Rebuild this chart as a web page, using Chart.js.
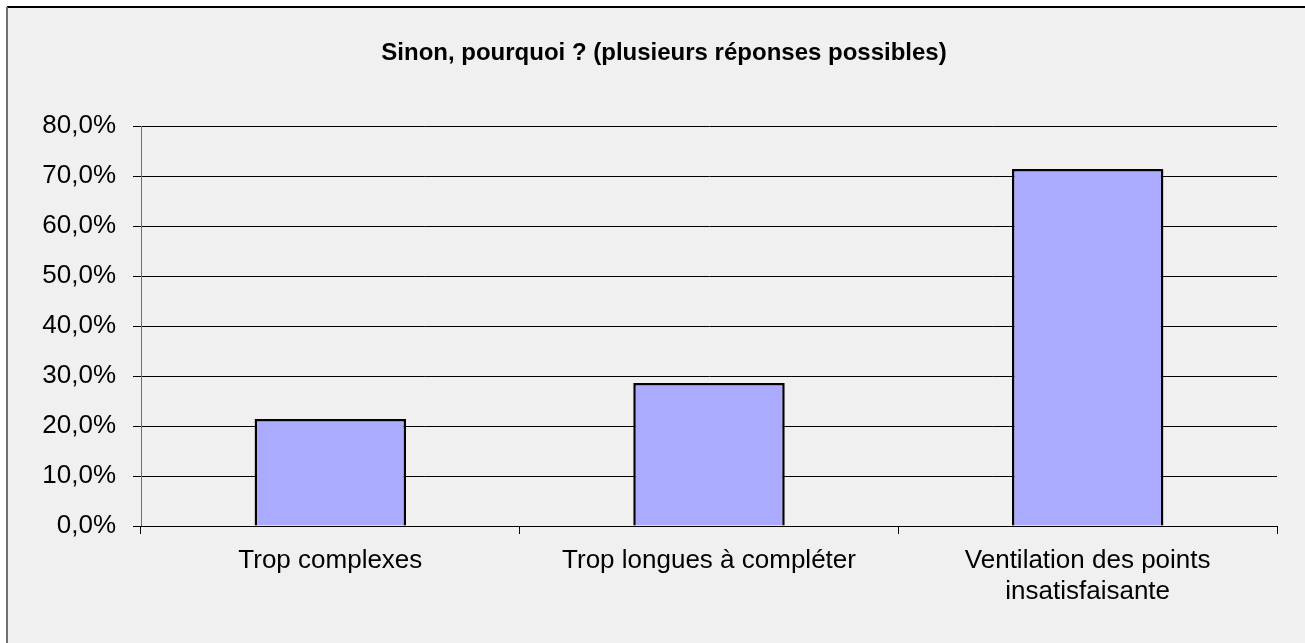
<!DOCTYPE html>
<html>
<head>
<meta charset="utf-8">
<script src="https://cdn.jsdelivr.net/npm/chart.js@4"></script>
<style>
  html, body { margin: 0; padding: 0; background: #ffffff; }
  #wrap { position: relative; width: 1305px; height: 643px; }
</style>
</head>
<body>
<div id="wrap"><canvas id="c" width="1305" height="643"></canvas></div>
<script>
const categories = ['Trop complexes', 'Trop longues à compléter', ['Ventilation des points', 'insatisfaisante']];
const values = [21.4, 28.6, 71.4];
const yTicks = [0, 10, 20, 30, 40, 50, 60, 70, 80];
const titleText = 'Sinon, pourquoi ? (plusieurs réponses possibles)';

const FONT = '"Liberation Sans", Arial, sans-serif';

// Grey panel with a dark frame, plus the title text
const panel = {
  id: 'panel',
  beforeDraw(chart) {
    const ctx = chart.ctx;
    ctx.save();
    ctx.fillStyle = '#f0f0f0';
    ctx.fillRect(6, 6, chart.width, chart.height);
    ctx.strokeStyle = '#000000';
    ctx.lineWidth = 2;
    ctx.beginPath();
    ctx.moveTo(7, 7);
    ctx.lineTo(chart.width, 7);
    ctx.stroke();
    ctx.strokeStyle = '#707070';
    ctx.beginPath();
    ctx.moveTo(7, chart.height);
    ctx.lineTo(7, 7);
    ctx.stroke();
    ctx.fillStyle = '#000000';
    ctx.font = 'bold 24px ' + FONT;
    ctx.textAlign = 'center';
    ctx.textBaseline = 'middle';
    ctx.fillText(titleText, 664, 53);
    ctx.restore();
  }
};

new Chart(document.getElementById('c'), {
  type: 'bar',
  data: {
    labels: categories,
    datasets: [{
      data: values,
      backgroundColor: '#aaaaff',
      borderColor: '#000000',
      borderWidth: 2.5,
      categoryPercentage: 1.0,
      barPercentage: 0.4
    }]
  },
  options: {
    responsive: false,
    animation: false,
    layout: { padding: { left: 0, right: 28, top: 126, bottom: 0 } },
    plugins: { legend: { display: false }, tooltip: { enabled: false } },
    scales: {
      y: {
        min: 0,
        max: 80,
        afterFit(s) { s.width = 141; },
        afterBuildTicks(s) { s.ticks = yTicks.map(v => ({ value: v })); },
        ticks: {
          color: '#000000',
          font: { family: FONT, size: 26 },
          padding: 17,
          callback: v => v.toFixed(1).replace('.', ',') + '%'
        },
        grid: { color: '#000000', lineWidth: 1, tickLength: 8 },
        border: { color: '#707070', width: 1 }
      },
      x: {
        afterFit(s) { s.height = 117; },
        ticks: {
          color: '#000000',
          font: { family: FONT, size: 26 },
          padding: 11,
          maxRotation: 0
        },
        grid: { offset: true, drawOnChartArea: false, color: '#000000', tickLength: 8 },
        border: { color: '#000000', width: 1 }
      }
    }
  },
  plugins: [panel]
});
</script>
</body>
</html>
